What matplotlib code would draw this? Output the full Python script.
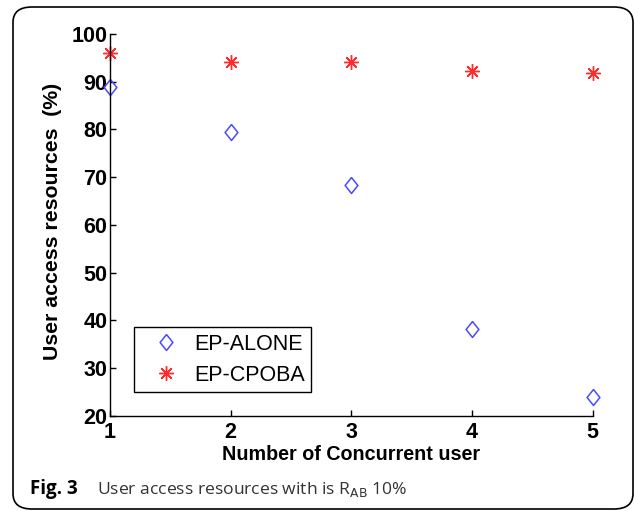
import matplotlib.pyplot as plt
from matplotlib.patches import FancyBboxPatch

# Data
users = [1, 2, 3, 4, 5]
ep_alone = [88.8, 79.5, 68.3, 38.3, 24.0]
ep_cpoba = [96.0, 94.2, 94.1, 92.3, 91.8]
y_ticks = [20, 30, 40, 50, 60, 70, 80, 90, 100]

# slightly wide diamond like MATLAB's 'd'
DIAMOND = [(0, 0.5), (0.4, 0), (0, -0.5), (-0.4, 0), (0, 0.5)]


def plot_resources(output_file="out.png"):
    fig = plt.figure(figsize=(6.34, 5.11), dpi=100)
    ax = fig.add_axes([0.1735, 0.186, 0.7615, 0.7475])

    ax.plot(users, ep_alone, linestyle="none", marker=DIAMOND, markersize=11.5,
            markerfacecolor="none", markeredgecolor="#4a4aff", markeredgewidth=1.1,
            label="EP-ALONE", clip_on=False)
    ax.plot(users, ep_cpoba, linestyle="none", marker=(8, 2, 0), markersize=10.5,
            markeredgecolor="#ff2a2a", markeredgewidth=1.0,
            label="EP-CPOBA", clip_on=False)

    ax.set_xlim(1, 5)
    ax.set_ylim(20, 100)
    ax.set_xticks(users)
    ax.set_yticks(y_ticks)

    for side in ("top", "right"):
        ax.spines[side].set_visible(False)
    for side in ("left", "bottom"):
        ax.spines[side].set_linewidth(1.0)

    ax.tick_params(direction="in", length=4, width=1)
    ax.tick_params(axis="y", pad=2)
    ax.tick_params(axis="x", pad=4)
    for lbl in ax.get_xticklabels() + ax.get_yticklabels():
        lbl.set_fontfamily("Liberation Sans")
        lbl.set_fontweight("bold")
        lbl.set_fontsize(15.5)

    ax.set_xlabel("Number of Concurrent user", fontfamily="Liberation Sans",
                  fontweight="bold", fontsize=14.2, labelpad=2)
    ax.set_ylabel("User access resources  (%)", fontfamily="Liberation Sans",
                  fontweight="bold", fontsize=15.3)
    ax.yaxis.set_label_coords(-0.10, 0.51)

    leg = ax.legend(loc="lower left", bbox_to_anchor=(0.0497, 0.0628),
                    borderaxespad=0, fancybox=False,
                    edgecolor="black", framealpha=1, borderpad=0.3,
                    handletextpad=0.15, labelspacing=0.45, handlelength=2.35,
                    prop={"family": "Liberation Sans", "size": 15.5})
    leg.get_frame().set_linewidth(1.0)

    # Caption below the chart
    fig.text(30 / 634, 1 - 489 / 511, "Fig. 3", fontfamily="Open Sans",
             fontweight="bold", fontsize=13.5, va="center", ha="left")
    fig.text(97 / 634, 1 - 489 / 511, "User access resources with is R$_{\\mathrm{AB}}$ 10%",
             fontfamily="Open Sans", fontsize=12.6, va="center", ha="left",
             color="#333333")

    # Rounded frame around the figure
    frame = FancyBboxPatch((13 / 634, 2 / 511), 620 / 634, 502 / 511,
                           boxstyle="round,pad=0,rounding_size=0.03",
                           transform=fig.transFigure, fill=False,
                           edgecolor="black", linewidth=1.2, clip_on=False)
    fig.patches.append(frame)

    fig.savefig(output_file, dpi=100)
    plt.close(fig)


if __name__ == "__main__":
    plot_resources()
